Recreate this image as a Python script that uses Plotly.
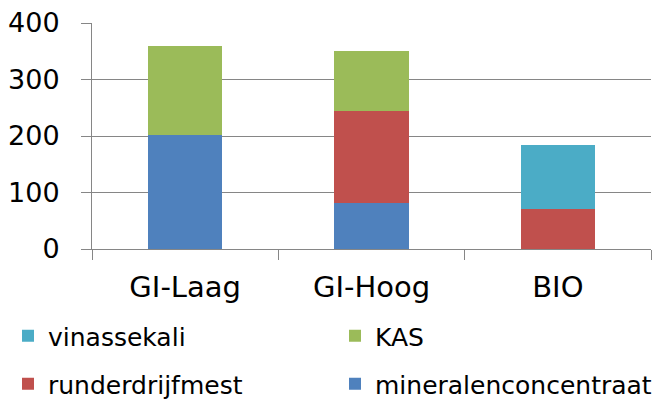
import plotly.graph_objects as go

# Scenario categories on the x axis
categories = ["GI-Laag", "GI-Hoog", "BIO"]

# Contribution per fertiliser type (stacked from bottom to top)
mineralenconcentraat = [202, 82, 0]
runderdrijfmest = [0, 162, 71]
kas = [158, 107, 0]
vinassekali = [0, 0, 113]

y_ticks = [0, 100, 200, 300, 400]

FONT = "DejaVu Sans"
GRID = "#868686"

fig = go.Figure()

series = [
    ("mineralenconcentraat", mineralenconcentraat, "#4F81BD", "legend2"),
    ("runderdrijfmest", runderdrijfmest, "#C0504D", "legend2"),
    ("KAS", kas, "#9BBB59", "legend"),
    ("vinassekali", vinassekali, "#4BACC6", "legend"),
]
for name, values, color, leg in series:
    fig.add_trace(go.Bar(
        x=categories, y=values, name=name,
        marker=dict(color=color, line=dict(width=0)),
        legend=leg,
    ))

W, H = 656, 400
L, R, T, B = 92, 5, 23, 151
PW, PH = W - L - R, H - T - B


def legend_row(y_px):
    # one legend per row so the two rows can sit well apart
    return dict(
        orientation="h", traceorder="reversed",
        x=(8 - L) / PW, xanchor="left",
        y=(H - B - y_px) / PH, yanchor="middle",
        entrywidth=282, entrywidthmode="pixels",
        itemwidth=30,
        font=dict(size=25, family=FONT),
        bgcolor="rgba(0,0,0,0)",
    )


fig.update_layout(
    width=W, height=H,
    margin=dict(l=L, r=R, t=T, b=B, autoexpand=False),
    barmode="stack",
    bargap=0.6,
    plot_bgcolor="white",
    paper_bgcolor="white",
    font=dict(family=FONT, color="#000000"),
    legend=legend_row(336),
    legend2=legend_row(384),
    xaxis=dict(
        showline=True, linecolor=GRID, linewidth=1,
        ticks="outside", tickson="boundaries", ticklen=10, tickcolor=GRID,
        showgrid=False,
        tickfont=dict(size=29, family=FONT),
        ticklabelstandoff=12,
    ),
    yaxis=dict(
        range=[0, 400], tickvals=y_ticks,
        showline=True, linecolor=GRID, linewidth=1,
        showgrid=True, gridcolor=GRID, gridwidth=1,
        ticks="outside", ticklen=10, tickcolor=GRID,
        tickfont=dict(size=27, family=FONT),
        ticklabelstandoff=16,
        zeroline=False,
    ),
)

fig.write_html("out.html")
